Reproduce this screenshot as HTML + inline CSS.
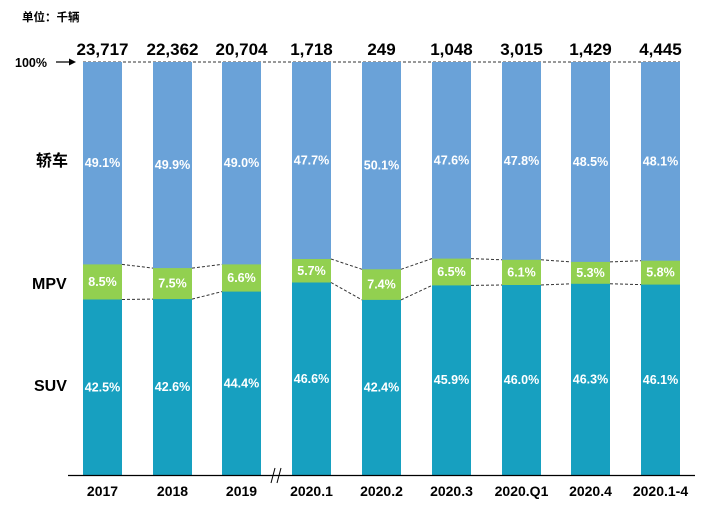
<!DOCTYPE html>
<html><head><meta charset="utf-8"><style>
body{margin:0;background:#fff}
svg{display:block}
text{font-family:"Liberation Sans","Noto Sans CJK SC",sans-serif;font-weight:bold}
.p{fill:#fff;font-size:12.5px;text-anchor:middle;dominant-baseline:central}
.t{fill:#000;font-size:17px;text-anchor:middle}
.y{fill:#000;font-size:14px;text-anchor:middle}
.d{stroke:#333;stroke-width:1;stroke-dasharray:3,2;fill:none}
</style></head><body>
<svg width="721" height="517" xmlns="http://www.w3.org/2000/svg">
<text x="22" y="21" font-size="11.5" fill="#000">单位：千辆</text>
<text x="15" y="67" font-size="12.5" fill="#000">100%</text>
<line x1="56" y1="62" x2="74" y2="62" stroke="#000" stroke-width="1.3"/>
<polygon points="76,62 69,58.5 69,65.5" fill="#000"/>
<line x1="83" y1="62" x2="680" y2="62" class="d"/>
<text x="36" y="166" font-size="16" fill="#000">轿车</text>
<text x="32" y="289" font-size="16" fill="#000">MPV</text>
<text x="34" y="391" font-size="16" fill="#000">SUV</text>
<g fill="#6aa2d8">
<rect x="83" y="62" width="39" height="413"/><rect x="153" y="62" width="39" height="413"/><rect x="222" y="62" width="39" height="413"/><rect x="292" y="62" width="39" height="413"/><rect x="362" y="62" width="39" height="413"/><rect x="432" y="62" width="39" height="413"/><rect x="502" y="62" width="39" height="413"/><rect x="571" y="62" width="39" height="413"/><rect x="641" y="62" width="39" height="413"/>
</g>
<g fill="#92d050">
<rect x="83" y="264.4" width="39" height="210.6"/><rect x="153" y="268.1" width="39" height="206.9"/><rect x="222" y="264.4" width="39" height="210.6"/><rect x="292" y="259" width="39" height="216"/><rect x="362" y="269.3" width="39" height="205.7"/><rect x="432" y="258.6" width="39" height="216.4"/><rect x="502" y="259.8" width="39" height="215.2"/><rect x="571" y="261.9" width="39" height="213.1"/><rect x="641" y="260.7" width="39" height="214.3"/>
</g>
<g fill="#17a0c0">
<rect x="83" y="299.5" width="39" height="175.5"/><rect x="153" y="299.1" width="39" height="175.9"/><rect x="222" y="291.6" width="39" height="183.4"/><rect x="292" y="282.5" width="39" height="192.5"/><rect x="362" y="299.9" width="39" height="175.1"/><rect x="432" y="285.4" width="39" height="189.6"/><rect x="502" y="285" width="39" height="190"/><rect x="571" y="283.8" width="39" height="191.2"/><rect x="641" y="284.6" width="39" height="190.4"/>
</g>
<path class="d" d="M122,264.4L153,268.1M192,268.1L222,264.4M331,259L362,269.3M401,269.3L432,258.6M471,258.6L502,259.8M541,259.8L571,261.9M610,261.9L641,260.7"/>
<path class="d" d="M122,299.5L153,299.1M192,299.1L222,291.6M331,282.5L362,299.9M401,299.9L432,285.4M471,285.4L502,285M541,285L571,283.8M610,283.8L641,284.6"/>
<text class="p" x="102.5" y="163.2">49.1%</text><text class="p" x="172.5" y="165">49.9%</text><text class="p" x="241.5" y="163.2">49.0%</text><text class="p" x="311.5" y="160.5">47.7%</text><text class="p" x="381.5" y="165.7">50.1%</text><text class="p" x="451.5" y="160.3">47.6%</text><text class="p" x="521.5" y="160.9">47.8%</text><text class="p" x="590.5" y="162">48.5%</text><text class="p" x="660.5" y="161.4">48.1%</text>
<text class="p" x="102.5" y="282">8.5%</text><text class="p" x="172.5" y="283.6">7.5%</text><text class="p" x="241.5" y="278">6.6%</text><text class="p" x="311.5" y="270.8">5.7%</text><text class="p" x="381.5" y="284.6">7.4%</text><text class="p" x="451.5" y="272">6.5%</text><text class="p" x="521.5" y="272.4">6.1%</text><text class="p" x="590.5" y="272.9">5.3%</text><text class="p" x="660.5" y="272.7">5.8%</text>
<text class="p" x="102.5" y="387.3">42.5%</text><text class="p" x="172.5" y="387">42.6%</text><text class="p" x="241.5" y="383.3">44.4%</text><text class="p" x="311.5" y="378.8">46.6%</text><text class="p" x="381.5" y="387.5">42.4%</text><text class="p" x="451.5" y="380.2">45.9%</text><text class="p" x="521.5" y="380">46.0%</text><text class="p" x="590.5" y="379.4">46.3%</text><text class="p" x="660.5" y="379.8">46.1%</text>
<text class="t" x="102.5" y="55">23,717</text><text class="t" x="172.5" y="55">22,362</text><text class="t" x="241.5" y="55">20,704</text><text class="t" x="311.5" y="55">1,718</text><text class="t" x="381.5" y="55">249</text><text class="t" x="451.5" y="55">1,048</text><text class="t" x="521.5" y="55">3,015</text><text class="t" x="590.5" y="55">1,429</text><text class="t" x="660.5" y="55">4,445</text>
<line x1="68" y1="475.5" x2="695" y2="475.5" stroke="#000" stroke-width="1.2"/>
<line x1="271" y1="483" x2="275" y2="468" stroke="#000" stroke-width="1"/>
<line x1="277" y1="483" x2="281" y2="468" stroke="#000" stroke-width="1"/>
<text class="y" x="102.5" y="496">2017</text><text class="y" x="172.5" y="496">2018</text><text class="y" x="241.5" y="496">2019</text><text class="y" x="311.5" y="496">2020.1</text><text class="y" x="381.5" y="496">2020.2</text><text class="y" x="451.5" y="496">2020.3</text><text class="y" x="521.5" y="496">2020.Q1</text><text class="y" x="590.5" y="496">2020.4</text><text class="y" x="660.5" y="496">2020.1-4</text>
</svg>
</body></html>
